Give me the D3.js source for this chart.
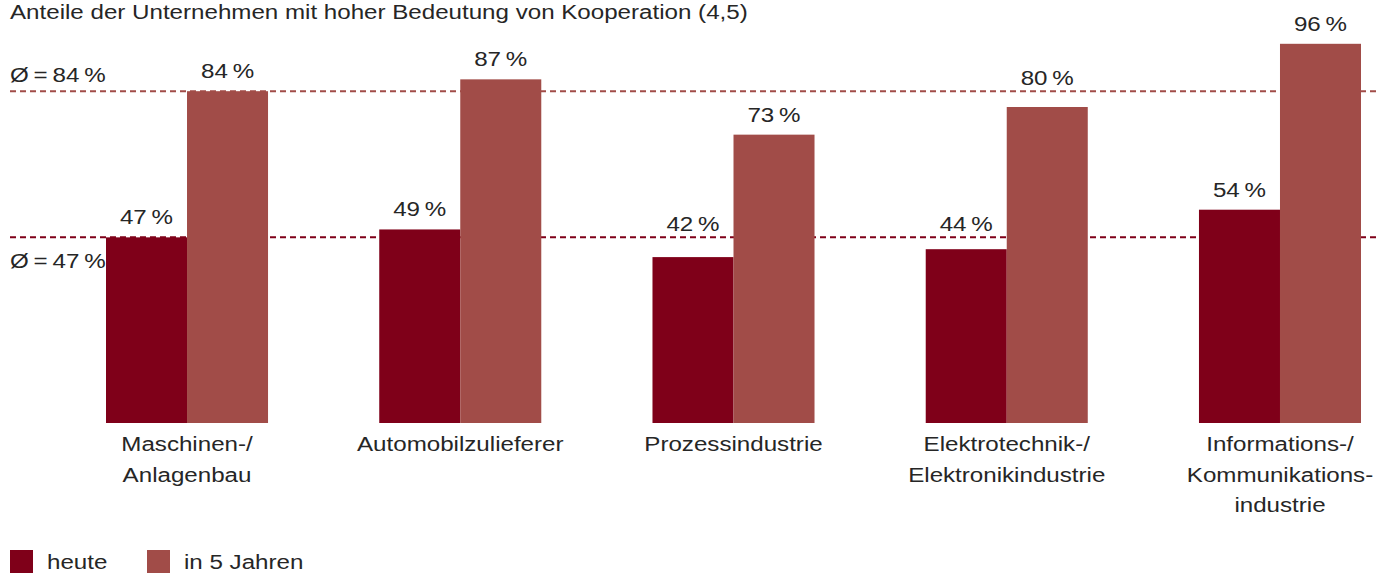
<!DOCTYPE html>
<html>
<head>
<meta charset="utf-8">
<script src="https://cdn.jsdelivr.net/npm/d3@7"></script>
<style>
  html, body { margin: 0; padding: 0; background: #fff; }
  svg { display: block; }
  text { font-family: "Liberation Sans", Arial, Helvetica, sans-serif; fill: #262626; }
</style>
</head>
<body>
<svg id="chart"></svg>
<script>
const WIDTH = 1387;
const HEIGHT = 575;
const FONT_SIZE = 21;
const STRETCH = 1.15; // reference type is set a bit wider than Arial

const title = 'Anteile der Unternehmen mit hoher Bedeutung von Kooperation (4,5)';
const categories = [
  ['Maschinen-/', 'Anlagenbau'],
  ['Automobilzulieferer'],
  ['Prozessindustrie'],
  ['Elektrotechnik-/', 'Elektronikindustrie'],
  ['Informations-/', 'Kommunikations-', 'industrie']
];
const seriesNames = ['heute', 'in 5 Jahren'];
const heute = [47, 49, 42, 44, 54];
const in5Jahren = [84, 87, 73, 80, 96];
const averages = [47, 84];

const COLORS = ['#7f0019', '#a14c48'];

const catKeys = categories.map(c => c.join(' '));
const rows = catKeys.map((k, i) => ({ key: k, values: [heute[i], in5Jahren[i]] }));

const svg = d3.select('#chart').attr('width', WIDTH).attr('height', HEIGHT);

const x0 = d3.scaleBand().domain(catKeys).range([106, 1361]).paddingInner(0.407);
const x1 = d3.scaleBand().domain(d3.range(seriesNames.length)).range([0, x0.bandwidth()]);
const y = d3.scaleLinear().domain([0, 100]).range([423, 28]);

function stretchedText(g, x, yy, str, anchor) {
  return g.append('text')
    .attr('transform', `translate(${x},${yy}) scale(${STRETCH},1)`)
    .attr('text-anchor', anchor || 'start')
    .attr('font-size', FONT_SIZE)
    .text(str);
}

const pct = v => v + '\u2009%';

// title (sits right at the top edge)
stretchedText(svg, 10, 19, title);

// average lines (behind bars)
const gAvg = svg.append('g');
averages.forEach((a, i) => {
  gAvg.append('line')
    .attr('x1', 10).attr('x2', 1377)
    .attr('y1', y(a)).attr('y2', y(a))
    .attr('stroke', a === averages[0] ? COLORS[0] : COLORS[1])
    .attr('stroke-width', 2)
    .attr('stroke-dasharray', '6,4');
});
// average labels: upper one above its line, lower one below
stretchedText(svg, 10, y(averages[1]) - 9, '\u00d8\u2009=\u2009' + pct(averages[1]));
stretchedText(svg, 10, y(averages[0]) + 31, '\u00d8\u2009=\u2009' + pct(averages[0]));

// bars
const gBars = svg.append('g');
const groups = gBars.selectAll('g.cat')
  .data(rows)
  .enter().append('g')
  .attr('class', 'cat')
  .attr('transform', d => `translate(${x0(d.key)},0)`);

groups.selectAll('rect')
  .data(d => d.values)
  .enter().append('rect')
  .attr('x', (d, i) => x1(i))
  .attr('width', x1.bandwidth())
  .attr('y', d => y(d))
  .attr('height', d => y(0) - y(d))
  .attr('fill', (d, i) => COLORS[i]);

// value labels, moved above an average line if they would sit on it
const CAP = FONT_SIZE * 0.72;
groups.each(function (row) {
  const g = d3.select(this);
  row.values.forEach((v, i) => {
    let base = y(v) - 13;
    averages.forEach(a => {
      const ly = y(a);
      if (ly > base - CAP - 2 && ly < base + 2) base = ly - 6;
    });
    stretchedText(g, x1(i) + x1.bandwidth() / 2, base, pct(v), 'middle');
  });
});

// category labels
const gCat = svg.append('g');
rows.forEach((r, i) => {
  categories[i].forEach((line, j) => {
    stretchedText(gCat, x0(r.key) + x0.bandwidth() / 2, 451 + j * 30.5, line, 'middle');
  });
});

// legend
const gLeg = svg.append('g').attr('transform', 'translate(10,550)');
const legX = [0, 137];
seriesNames.forEach((s, i) => {
  gLeg.append('rect')
    .attr('x', legX[i]).attr('y', 0)
    .attr('width', 23).attr('height', 23)
    .attr('fill', COLORS[i]);
  stretchedText(gLeg, legX[i] + 37, 19, s);
});
</script>
</body>
</html>
